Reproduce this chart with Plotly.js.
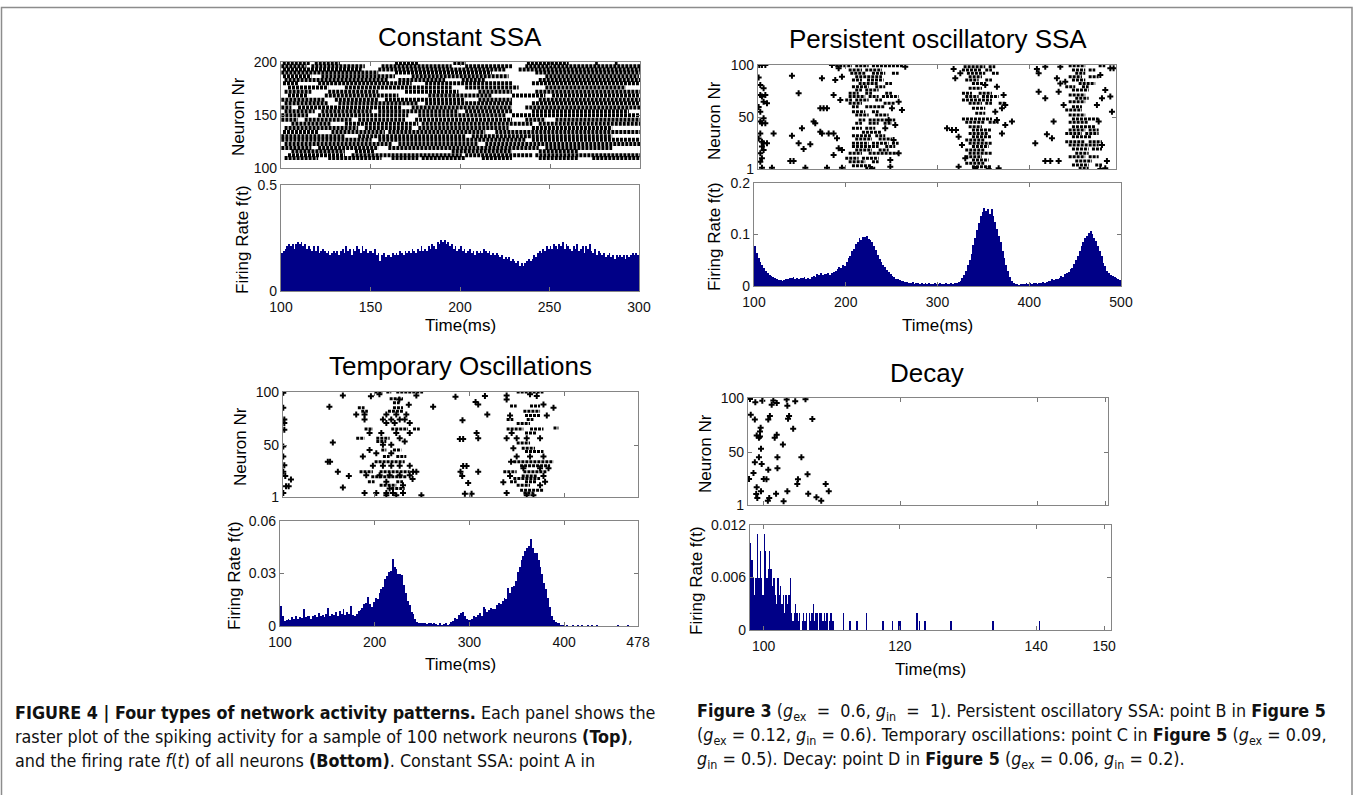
<!DOCTYPE html>
<html><head><meta charset="utf-8">
<script src="https://cdn.plot.ly/plotly-3.0.1.min.js"></script>
<style>html,body{margin:0;padding:0;background:#fff}#chart{width:1355px;height:795px}</style>
</head><body><div id="chart"></div>
<script>
// ---------------- DATA ----------------
const panelTitles = ["Constant SSA", "Persistent oscillatory SSA", "Temporary Oscillations", "Decay"];
const rasterLabel = "Neuron Nr";
const rateLabel = "Firing Rate f(t)";
const timeLabel = "Time(ms)";

// Panel 1: Constant SSA — raster runs [neuron, tStart, tEnd]
const p1Runs = [
 [199,101,116],[199,118.8,132.8],[199,163.5,176.5],[199,196,203],[199,237,260.3],[199,275,276.5],[199,286,287.5],
 [196,100.2,114.2],[196,116.9,146.7],[196,156,195.1],[196,202.6,228.7],[196,236.1,300],
 [193,101.1,144.9],[193,154.2,225],[193,232.4,300],
 [190,100.2,154.2],[190,163.5,217.5],[190,241.7,300],
 [186.5,101.1,116.9],[186.5,122.5,163.5],[186.5,172.8,226.8],[186.5,247.3,299.4],
 [183,102,159.8],[183,165.4,191.4],[183,200.7,213.8],[183,243.6,300],
 [180,101.1,109.5],[180,120.7,172.8],[180,180.3,228.7],[180,239.8,299.4],
 [176,103.9,126.3],[176,135.6,195.1],[176,202.6,232.4],[176,247.3,292],
 [172,102,116.9],[172,126.3,154.2],[172,169.1,198.9],[172,210,228.7],[172,241.7,300],
 [168.5,103.9,115.1],[168.5,124.4,165.4],[168.5,182.1,217.5],[168.5,228.7,247.3],[168.5,251,299.4],
 [164.5,100.2,124.4],[164.5,130,154.2],[164.5,157.9,202.6],[164.5,210,228.7],[164.5,243.6,300],
 [161,102,126.3],[161,132,176.5],[161,180.3,228.7],[161,239.8,300],
 [157,100.2,105.8],[157,109.5,167.2],[157,172.8,228.7],[157,236.1,300],
 [153.5,102,118.8],[153.5,122.5,150.5],[153.5,154.2,198.9],[153.5,202.6,228.7],[153.5,239.8,293.8],
 [149.7,100.2,115.1],[149.7,120.7,170.9],[149.7,176.5,225],[149.7,228.7,300],
 [145.6,100.2,109.5],[145.6,113.2,139.3],[145.6,143,169.1],[145.6,174.7,228.7],[145.6,236.1,247.3],[145.6,252.9,300],
 [141.8,105.8,128.1],[141.8,135.6,176.5],[141.8,178.4,240],[141.8,243.6,300],
 [137.7,102,143],[137.7,146.7,172.8],[137.7,176.5,226.8],[137.7,239.8,284.5],
 [134,101.1,120.7],[134,128.1,157.9],[134,159.8,213.8],[134,219.4,300],
 [130,100.2,135.6],[130,143,202.6],[130,206.3,284.5],
 [126.7,100.2,150.5],[126.7,154.2,236.1],[126.7,239.8,300],
 [122.6,102,161.6],[122.6,165.4,210],[122.6,213.8,300],
 [118.9,100.2,116.9],[118.9,120.7,154.2],[118.9,159.8,243.6],[118.9,247.3,284.5],
 [115.7,105.8,135.6],[115.7,141.2,152.3],[115.7,195.1,228.7],[115.7,243.6,265.9],
 [112,103.9,135.6],[112,139.3,200.7],[112,202.6,240],[112,241.7,300],
 [109.4,102,120.7],[109.4,126.3,156],[109.4,161.6,176.5],[109.4,178.4,202.6],[109.4,211.9,228.7],[109.4,243.6,265.9],[109.4,273.4,300]
];
// Panel 1 firing rate, 1 ms bins from 100 ms
const p1Rate = [
 .18,.19,.20,.21,.22,.21,.22,.20,.22,.23, .22,.23,.21,.22,.20,.21,.20,.19,.21,.19,
 .21,.18,.19,.20,.19,.18,.19,.17,.18,.19, .18,.19,.17,.19,.20,.18,.21,.19,.20,.17,
 .20,.19,.21,.20,.18,.21,.19,.20,.18,.19, .19,.18,.20,.17,.18,.14,.17,.18,.16,.17,
 .17,.16,.18,.17,.18,.17,.19,.18,.17,.19, .18,.19,.18,.20,.19,.18,.20,.19,.21,.19,
 .20,.19,.21,.20,.22,.21,.20,.23,.22,.24, .23,.24,.22,.23,.21,.22,.20,.21,.19,.20,
 .21,.19,.20,.18,.19,.20,.18,.19,.17,.19, .18,.19,.18,.20,.19,.18,.19,.17,.18,.17,
 .18,.17,.16,.17,.15,.16,.15,.16,.14,.15, .14,.13,.14,.12,.13,.12,.13,.14,.15,.14,
 .15,.17,.16,.18,.19,.18,.20,.19,.21,.20, .21,.20,.22,.21,.20,.22,.21,.23,.20,.22,
 .21,.20,.19,.21,.20,.22,.19,.20,.21,.18, .21,.20,.22,.19,.18,.20,.17,.19,.18,.17,
 .18,.16,.17,.18,.16,.17,.15,.17,.16,.17, .16,.17,.15,.17,.16,.17,.18,.17,.18,.17
];

// Panel 2: Persistent oscillatory SSA
const p2Runs = [
 [99.4,188.6,206.8],[99.4,210.4,225],[99.4,228.6,263.1],[95.2,203.2,217.7],[95.2,221.3,239.5],
 [92.1,205,221.3],[92.1,228.6,243.1],[92.1,250.4,257.7],[88.9,210.4,239.5],[85.7,206.8,217.7],[85.7,223.2,241.3],
 [82.5,214.1,235.9],[82.5,243.1,250.4],[79.4,206.8,225],[79.4,232.2,243.1],[76.2,210.4,217.7],[76.2,221.3,235.9],
 [73,203.2,214.1],[73,221.3,228.6],[73,243.1,250.4],[69.9,203.2,221.3],[69.9,225,235.9],[69.9,239.5,257.7],
 [66.7,199.5,206.8],[66.7,210.4,225],[66.7,232.2,239.5],[63.5,203.2,217.7],[63.5,241.3,254],
 [60.3,206.8,214.1],[60.3,221.3,243.1],[55.6,206.8,221.3],[55.6,228.6,235.9],[52.4,210.4,225],[52.4,232.2,246.8],
 [47.6,214.1,221.3],[47.6,225,254],[44.5,210.4,217.7],[44.5,225,235.9],[44.5,241.3,250.4],
 [39.7,206.8,217.7],[39.7,221.3,232.2],[35.9,217.7,239.5],[32.7,206.8,228.6],[32.7,232.2,243.1],
 [29.6,210.4,228.6],[29.6,235.9,250.4],[25.4,206.8,225],[25.4,228.6,246.8],[25.4,250.4,257.7],
 [22.3,206.8,235.9],[22.3,243.1,254],[19.1,210.4,228.6],[19.1,235.9,246.8],[15.9,203.2,217.7],[15.9,225,257.7],
 [11.2,199.5,214.1],[11.2,217.7,235.9],[8,203.2,221.3],[8,228.6,235.9],[4.2,206.8,228.6],[1.6,221.3,232.2],
 [98.4,328.5,352.1],[98.4,355.8,363],[95.2,326.7,348.5],[95.2,352.1,359.4],[92.1,332.1,352.1],[92.1,359.4,366.7],
 [88.9,334,348.5],[85.7,330.3,344.9],[85.7,352.1,359.4],[82.5,337.6,352.1],[77.8,334,348.5],
 [73,326.7,337.6],[73,344.9,359.4],[69.9,330.3,344.9],[69.9,348.5,366.7],[66.7,326.7,359.4],
 [63.5,334,348.5],[63.5,352.1,359.4],[63.5,366.7,373.9],[58.8,337.6,352.1],[54,341.2,352.1],
 [48.6,326.7,359.4],[45.4,330.3,352.1],[45.4,355.8,366.7],[41.3,334,348.5],[38.1,337.6,359.4],
 [34.9,334,355.8],[31.8,337.6,359.4],[28.6,330.3,352.1],[25.4,334,359.4],[22.3,337.6,355.8],
 [19.1,330.3,352.1],[15.9,334,359.4],[12.7,330.3,348.5],[9.6,337.6,355.8],[6.4,330.3,352.1],[3.2,337.6,359.4],
 [99.4,443,461.1],[99.4,475.7,482.9],[95.2,446.6,461.1],[95.2,464.8,472],[92.1,450.2,461.1],
 [88.9,443,457.5],[88.9,464.8,475.7],[85.7,446.6,461.1],[82.5,453.9,472],[79.4,439.3,450.2],[79.4,457.5,464.8],
 [76.2,446.6,464.8],[71.4,443,461.1],[68.3,450.2,464.8],[65.1,443,461.1],[60.3,446.6,457.5],[57.2,439.3,457.5],
 [52.4,443,461.1],[48.6,446.6,475.7],[45.4,443,464.8],[41.3,446.6,472],[38.1,443,461.1],[38.1,464.8,475.7],
 [34.9,439.3,457.5],[34.9,461.1,475.7],[31.8,446.6,468.4],[27,439.3,461.1],[27,464.8,479.3],[23.8,443,475.7],
 [20,446.6,464.8],[20,468.4,479.3],[15.9,450.2,464.8],[12.7,443,461.1],[12.7,464.8,475.7],[8.6,450.2,468.4],
 [4.8,446.6,464.8],[4.8,472,479.3],[1.6,453.9,464.8]
];
const p2Dots = [
 [105.8,100],[108.7,100],[112.4,100],[106.9,81],[110.5,77.8],[106.9,71.4],[108.7,69.9],[112.4,71.4],[110.5,65.1],[114.2,63.5],
 [106.9,55.6],[110.5,49.2],[106.9,46.1],[108.7,44.5],[112.4,44.5],[106.9,34.9],[108.7,27],[110.5,25.4],[114.2,25.4],
 [108.7,22.3],[110.5,19.1],[106.9,15.9],[108.7,11.2],[106.9,8],[108.7,2.3],[105.1,88],[105.1,30],[105.1,60],
 [141.4,89.8],[148.7,73],[174.1,87.3],[186.8,71.4],[166.8,44.5],[152.3,39.7],[148.7,25.4],[141.4,32.7],[154.1,20],
 [161.4,24.5],[143.2,8.6],[139.6,8.6],[121.4,34.9],[119.6,2.3],[156,2.3],[179.6,2.3],[195.9,2.3],
 [185,100],[192.3,96.8],[195.9,88.9],[188.6,85.7],[194.1,66.7],[172.3,58.8],[175.9,58.8],[179.6,58.8],[165,46.1],
 [172.3,36.5],[174.1,34.9],[181.4,34.9],[186.8,34.9],[190.5,30.2],[192.3,20.7],[186.8,14.3],[195.9,19.1],
 [250.4,58.8],[257.7,65.1],[261.3,57.2],[246.8,47.6],[254,42.9],[243.1,39.7],[252.2,28.6],[257.7,15.9],[248.6,9.6],
 [248.6,3.2],[228.6,1],[264.9,98.4],
 [317.6,96.2],[324.9,92.1],[319.4,87.3],[352.1,81],[364.8,79.4],[372.1,71.4],[373.9,61.9],[370.3,58.8],[363,55.6],
 [364.8,47.6],[381.2,46.1],[373.9,42.9],[310.4,39.7],[315.8,38.1],[320.2,38.1],[370.3,34.9],[323.1,31.8],[326.7,23.8],
 [330.3,11.2],[323.1,3.2],[366.7,1.6],[341.2,1],[355.8,1],
 [408.4,96.2],[410.3,92.1],[417.5,98.4],[430.2,87.3],[433.9,98.4],[433.9,82.5],[439.3,84.1],[477.5,90.5],[482.9,76.2],
 [488.4,96.8],[492,96.8],[410.3,74.6],[417.5,68.3],[432.1,74.6],[437.5,61.9],[479.3,68.3],[490.2,55.6],[488.4,69.9],
 [426.6,46.1],[419.3,34],[424.8,30.2],[406.6,25.4],[473.8,61.9],[475.7,46.1],[417.5,8.6],[423,8.6],[432.1,8.6],
 [484.7,8.6],[479.3,23.8],[482.9,1.6],[477.5,1]
];
// Panel 2 firing rate, 2 ms bins from 100 ms
const p2Rate = [
 .077,.065,.055,.047,.040, .035,.029,.026,.022,.020, .017,.016,.014,.012,.011, .010,.012,.014,.013,.016,
 .015,.017,.014,.016,.013, .016,.015,.017,.014,.016, .013,.018,.019,.017,.024, .022,.025,.021,.024,.023,
 .026,.022,.025,.028,.030, .033,.036,.034,.040,.038, .047,.055,.058,.068,.072, .082,.085,.093,.090,.096,
 .095,.097,.092,.089,.085, .077,.070,.060,.052,.046, .040,.036,.031,.028,.024, .020,.018,.014,.013,.011,
 .010,.009,.008,.007,.006, .005,.007,.004,.006,.005, .004,.006,.003,.005,.004, .005,.003,.004,.006,.003,
 .004,.005,.003,.004,.005, .004,.003,.005,.004,.006, .005,.007,.010,.015,.022, .030,.040,.050,.062,.080,
 .093,.108,.122,.135,.143, .151,.145,.149,.140,.150, .135,.125,.110,.098,.085, .068,.055,.040,.029,.018,
 .010,.006,.004,.003,.002, .003,.004,.003,.005,.004, .005,.004,.006,.005,.004, .006,.005,.007,.006,.008,
 .010,.009,.013,.011,.013, .014,.016,.019,.018,.023, .026,.028,.033,.035,.042, .050,.058,.068,.078,.086,
 .094,.098,.103,.106,.101, .093,.088,.078,.068,.058, .045,.038,.030,.025,.022, .020,.018,.016,.014,.012
];

// Panel 3: Temporary Oscillations
const p3Runs = [
 [100,199.9,208.7],[100,212.3,217.5],[100,222.8,251.1],[93.7,215.8,229.9],[89.8,219.3,226.4],
 [85.1,182.2,189.3],[85.1,219.3,229.9],[81.9,185.8,192.8],[81.9,214,229.9],
 [65.1,189.3,198.1],[65.1,217.5,235.2],[65.1,240.5,247.6],[56.5,180.5,189.3],[56.5,201.7,215.8],[53.4,201.7,212.3],
 [45.4,207,212.3],[45.4,219.3,228.1],[39.1,208.7,215.8],[39.1,222.8,233.4],[34.3,199.9,231.7],
 [24.8,184,198.1],[24.8,205.2,237],[20,196.4,233.4],[15.3,192.8,199.9],[15.3,222.8,229.9],[12.1,205.2,222.8],[8.9,217.5,231.7],
 [100,349.9,378.2],[86.7,342.9,349.9],[86.7,364,374.6],[81.9,357,374.6],[77.8,358.7,374.6],[74,339.3,346.4],[74,360.5,367.6],
 [70.2,349.9,364],[66,388.8,394],[65.1,339.3,357],[65.1,364,378.2],[61.3,358.7,371.1],[51.8,349.9,364],[47,355.2,369.3],
 [43.8,358.7,378.2],[34.3,346.4,388.8],[30.5,353.5,385.2],[24.8,335.8,349.9],[24.8,357,381.7],[20.7,355.2,371.1],
 [18.5,346.4,374.6],[15.3,342.9,349.9],[15.3,358.7,371.1],[12.1,349.9,364],[7.3,353.5,378.2],[4.8,357,367.6]
];
const p3Dots = [
 [180.5,78.7],[189.3,78.7],[212.3,78.7],[222.8,78.7],[233.4,78.7],[189.3,74],[208.7,74],[217.5,74],[226.4,74],[231.7,74],
 [212.3,70.8],[221.1,70.8],[237,70.8],[194.6,61.3],[207,61.3],[222.8,61.3],[237,61.3],[226.4,56.5],[231.7,53.4],
 [208.7,50.2],[217.5,50.2],[194.6,45.4],[201.7,42.2],[217.5,42.2],[187.5,39.1],[198.1,30.5],[208.7,30.5],[217.5,30.5],
 [226.4,30.5],[237,30.5],[240.5,24.8],[244,24.8],[191.1,21.6],[205.2,21.6],[215.8,21.6],[226.4,21.6],[237,21.6],
 [212.3,15.3],[240,18],[229.9,12.1],[215.8,8.9],[189.3,4.8],[201.7,4.8],[212.3,4.8],[219.3,4.8],[229.9,4.8],
 [212.3,2.6],[222.8,2.6],[249.3,2.6],[196,96],[205,97.8],[226,93],[236,88],[244,96.8],
 [152.2,86],[166.4,96.8],[155.8,52.4],[150.5,34.3],[152.9,34.3],[161.1,24.8],[172.7,20.7],[166.4,9.9],
 [103.5,99.4],[103.5,85.1],[104.6,74],[104.6,70.8],[104.6,64.5],[103.5,48.6],[103.5,39.1],[104.6,31],[103.5,24.8],
 [105.6,20.7],[111.6,17.5],[106.4,11.2],[109.2,11.2],[103.5,4.8],
 [261.7,86],[285.3,95.6],[306.5,90.5],[309.3,88.3],[316.4,96.2],[318.9,78.7],[292.7,73.3],[289.9,55.6],[293.4,55.6],
 [307.6,61.3],[309.3,56.5],[293.4,30.2],[297,30.2],[290.6,24.8],[292.4,20.7],[309.3,24.8],[298.7,14.3],[295.2,4.1],[302.3,4.1],
 [339.3,96.8],[339.3,93],[364,97.8],[371.1,96.2],[378.2,88.3],[388.8,85.1],[342.9,77.8],[381.7,77.8],[344.6,61.3],
 [339.3,56.5],[349.9,56.5],[360.5,56.5],[374.6,56.5],[346.4,47],[349.9,39.1],[364,39.1],[378.2,39.1],[357,28],
 [374.6,28],[383.5,28],[342.9,20.7],[378.2,20.7],[379.9,15.3],[374.6,12.1],[339.3,4.8],[360.5,2.6],[367.6,2.6],[335.8,15],[344,34.3]
];
// Panel 3 firing rate, 2 ms bins from 100 ms
const p3Rate = [
 .0115,.006,.003,.0035,.004, .0035,.005,.004,.006,.004, .005,.0045,.0095,.005,.006, .0055,.004,.006,.0065,.005,
 .0075,.006,.0065,.005,.007, .0105,.006,.007,.0065,.008, .006,.0085,.007,.0095,.0065, .008,.007,.0115,.0065,.006,
 .007,.0085,.009,.0105,.0125, .013,.0165,.0125,.011,.014, .016,.0155,.019,.021,.0225, .027,.0285,.031,.0315,.0385,
 .034,.0325,.030,.0295,.029, .0235,.019,.0145,.012,.008, .007,.004,.0025,.002,.0015, .0018,.0015,.0012,.002,.0015,
 .0012,.0018,.001,.0008,.0015, .0006,.001,.0015,.0008,.0012, .0025,.003,.0045,.004,.0065, .0075,.008,.0055,.004,.0035,
 .0035,.004,.0055,.005,.0065, .0075,.006,.011,.0095,.008, .009,.0105,.0095,.010,.012, .013,.0125,.0145,.016,.0155,
 .0215,.019,.0225,.023,.0255, .031,.0335,.0375,.040,.043, .0445,.046,.050,.0445,.042, .0415,.038,.034,.030,.0245,
 .021,.016,.011,.006,.0035, .0025,.0015,.0015,.0008,.0006, 0,.0006,0,0,.0006, 0,0,.0006,0,.0006,
 0,0,.0006,0,.0006, 0,0,.0006,0,0, 0,0,0,0,0, 0,0,0,.0006,0, 0,0,0,.0006,0, 0,0,0,0
];

// Panel 4: Decay — individual spikes [time, neuron]
const p4Dots = [
 [97.99,99],[98.77,96],[99.79,97.5],[101.4,97.8],[101.9,95.4],[101.16,93.8],[103.35,98.5],[103.45,92.9],[104.6,96.9],[106.1,98.8],
 [98.1,84.5],[98.7,80.2],[100.66,80.2],[100.9,83.3],[103.55,80.8],[103.7,83.3],[107.1,80.5],
 [99.55,72.5],[99.45,69.1],[98.97,65.3],[99.3,63.2],[99.45,64.4],[101.9,66],[101.6,63.2],[104.3,71.5],[102.8,57],
 [99.6,53],[99.3,45.2],[102.0,45.2],[105.5,45.2],[98.7,40.6],[99.7,39],[102.0,35],[100.66,33.5],[98.5,30.7],[106.4,29.5],
 [100.0,25.1],[100.4,24.8],[97.85,25.1],[105.0,24.8],[104.9,20.5],[109.05,20.5],[98.97,17.4],[106.5,11.5],[109.5,13.7],
 [99.6,13.7],[98.9,11.2],[99.06,7.5],[101.8,11.5],[103.45,13.7],[107.7,8.1],[108.4,5],[100.6,5],[100.8,7.5],[102.9,4.4]
];
// Panel 4 firing rate: non-empty 0.2 ms bins (centre time, rate)
const p4Time = [
 98.1,98.3,98.5,98.7,98.9,99.1,99.3,99.5,99.7,99.9,
 100.1,100.3,100.5,100.7,100.9,101.1,101.3,101.5,101.7,101.9,
 102.1,102.3,102.5,102.7,102.9,103.1,103.3,103.5,103.7,103.9,
 104.1,104.3,104.5,104.7,104.9,105.1,105.3,105.7,105.9,
 106.1,106.3,106.7,106.9,107.1,107.3,107.5,107.7,107.9,
 108.3,108.5,108.7,108.9,109.1,109.3,109.7,109.9,
 110.1,110.3,111.7,112.7,113.7,115.1,117.5,118.9,119.9,120.1,122.5,122.9,123.7,127.5,133.7,140.5
];
const p4Rate = [
 .010,.008,.006,.004,.006,.011,.006,.009,.006,.004,
 .011,.009,.006,.007,.009,.007,.005,.006,.004,.003,
 .006,.004,.005,.003,.004,.002,.004,.003,.004,.006,
 .002,.001,.002,.003,.002,.001,.002,.001,.002,
 .001,.002,.002,.001,.002,.003,.001,.002,.002,
 .002,.002,.001,.002,.001,.002,.001,.002,
 .001,.001,.002,.001,.001,.002,.001,.001,.001,.001,.002,.001,.001,.001,.001,.001
];

// Tick values
const p1RasterTicks = [100,150,200];
const p1TimeTicks = [100,150,200,250,300];
const p1RateTicks = [0,0.5];
const p2TimeTicks = [100,200,300,400,500];
const p2RateTicks = [0,0.1,0.2];
const p3TimeTicks = [100,200,300,400,478];
const p3RateTicks = [0,0.03,0.06];
const p4TimeTicks = [100,120,140,150];
const p4RateTicks = [0,0.006,0.012];
const neuronTicks = [1,50,100];

// Caption
const captionLeft = [
 "<b>FIGURE 4 | Four types of network activity patterns.</b> Each panel shows the",
 "raster plot of the spiking activity for a sample of 100 network neurons <b>(Top)</b>,",
 "and the firing rate <i>f</i>(<i>t</i>) of all neurons <b>(Bottom)</b>. Constant SSA: point A in"
];
const captionRight = [
 "<b>Figure 3</b> (<i>g</i><sub>ex</sub>  =  0.6, <i>g</i><sub>in</sub>  =  1). Persistent oscillatory SSA: point B in <b>Figure 5</b>",
 "(<i>g</i><sub>ex</sub> = 0.12, <i>g</i><sub>in</sub> = 0.6). Temporary oscillations: point C in <b>Figure 5</b> (<i>g</i><sub>ex</sub> = 0.09,",
 "<i>g</i><sub>in</sub> = 0.5). Decay: point D in <b>Figure 5</b> (<i>g</i><sub>ex</sub> = 0.06, <i>g</i><sub>in</sub> = 0.2)."
];

// ---------------- DRAWING ----------------
const W = 1355, H = 795;
const fx = p => p / W;
const fy = p => 1 - p / H;
const BAR = 'rgb(0,0,135)';
const FONT = 'Liberation Sans, Arial, Helvetica, sans-serif';

function runTrace(runs, xa, ya, width, dash) {
  const x = [], y = [];
  runs.forEach(r => { x.push(r[1], r[2], null); y.push(r[0], r[0], null); });
  return {type:'scatter', mode:'lines', x, y, xaxis:xa, yaxis:ya, hoverinfo:'skip',
          line:{color:'#000', width:width, dash:dash}};
}
function dotTrace(dots, xa, ya) {
  return {type:'scatter', mode:'markers', x:dots.map(d=>d[0]), y:dots.map(d=>d[1]), xaxis:xa, yaxis:ya,
          hoverinfo:'skip', marker:{symbol:'cross', size:5, color:'#000', line:{width:0}}};
}
function binTrace(rate, start, w, xa, ya) {
  return {type:'bar', x:rate.map((v,i)=>start + w*(i+0.5)), y:rate, width:w, xaxis:xa, yaxis:ya,
          hoverinfo:'skip', marker:{color:BAR, line:{width:0}}};
}

const traces = [
  runTrace(p1Runs, 'x', 'y', 4, '3px,1px'),
  binTrace(p1Rate, 100, 1, 'x2', 'y2'),
  runTrace(p2Runs, 'x3', 'y3', 3, '3px,1px'),
  dotTrace(p2Dots, 'x3', 'y3'),
  binTrace(p2Rate, 100, 2, 'x4', 'y4'),
  runTrace(p3Runs, 'x5', 'y5', 3, '3px,1px'),
  dotTrace(p3Dots, 'x5', 'y5'),
  binTrace(p3Rate, 100, 2, 'x6', 'y6'),
  dotTrace(p4Dots, 'x7', 'y7'),
  {type:'bar', x:p4Time, y:p4Rate, width:0.2, xaxis:'x8', yaxis:'y8', hoverinfo:'skip', marker:{color:BAR, line:{width:0}}}
];

function ax(domain, range, tickvals, labels, anchor, ticktext, isX) {
  const a = {domain, range, anchor, tickmode:'array', tickvals, showticklabels:labels,
    ticks:'inside', ticklen:4, tickwidth:1, tickcolor:'#777', showline:true, linecolor:'#858585', linewidth:1.2,
    mirror:'ticks', showgrid:false, zeroline:false, fixedrange:true,
    tickfont:{family:FONT, size:14, color:'#111'}};
  if (isX) a.ticklabelstandoff = 3;
  if (ticktext) a.ticktext = ticktext;
  return a;
}

const layout = {
  width:W, height:H, margin:{l:0,r:0,t:0,b:0}, paper_bgcolor:'#fff', plot_bgcolor:'#fff',
  showlegend:false, bargap:0,
  xaxis:  ax([fx(281),fx(640)], [100,300], p1TimeTicks, false, 'y', null, true),
  yaxis:  ax([fy(168),fy(62)], [100,200], p1RasterTicks, true, 'x'),
  xaxis2: ax([fx(281),fx(639)], [100,300], p1TimeTicks, true, 'y2', null, true),
  yaxis2: ax([fy(291),fy(185)], [0,0.5], p1RateTicks, true, 'x2', ['0','0.5']),
  xaxis3: ax([fx(758),fx(1116)], [104.4,494.6], p2TimeTicks, false, 'y3', null, true),
  yaxis3: ax([fy(169),fy(65)], [1,100], neuronTicks, true, 'x3'),
  xaxis4: ax([fx(754),fx(1121)], [100,500], p2TimeTicks, true, 'y4', null, true),
  yaxis4: ax([fy(286),fy(183)], [0,0.2], p2RateTicks, true, 'x4', ['0','0.1','0.2']),
  xaxis5: ax([fx(283),fx(638)], [103.2,478], p3TimeTicks, false, 'y5', null, true),
  yaxis5: ax([fy(497),fy(392)], [1,100], neuronTicks, true, 'x5'),
  xaxis6: ax([fx(280),fx(638)], [100,478], p3TimeTicks, true, 'y6', null, true),
  yaxis6: ax([fy(626),fy(521)], [0,0.06], p3RateTicks, true, 'x6', ['0','0.03','0.06']),
  xaxis7: ax([fx(748),fx(1108)], [97.7,150.3], p4TimeTicks, false, 'y7', null, true),
  yaxis7: ax([fy(505),fy(398)], [1,100], neuronTicks, true, 'x7'),
  xaxis8: ax([fx(750),fx(1111)], [98,151], p4TimeTicks, true, 'y8', null, true),
  yaxis8: ax([fy(630),fy(525)], [0,0.012], p4RateTicks, true, 'x8', ['0','0.006','0.012']),
  shapes:[
    {type:'rect', xref:'paper', yref:'paper', x0:fx(1.5), x1:fx(1352), y0:fy(800), y1:fy(7.5),
     line:{color:'#8c8c8c', width:1.5}, fillcolor:'rgba(0,0,0,0)', layer:'below'}
  ],
  annotations:[]
};

function note(text, px, py, size, opts) {
  layout.annotations.push(Object.assign({text, xref:'paper', yref:'paper', x:fx(px), y:fy(py),
    showarrow:false, xanchor:'center', yanchor:'middle', font:{family:FONT, size, color:'#000'}}, opts||{}));
}
note(panelTitles[0], 460, 37, 26);
note(panelTitles[1], 938, 39, 26);
note(panelTitles[2], 460, 366, 26);
note(panelTitles[3], 927, 373, 26);
note(rasterLabel, 239, 117, 17, {textangle:-90});
note(rateLabel, 243, 240, 17, {textangle:-90});
note(timeLabel, 460, 325, 17);
note(rasterLabel, 715, 121, 17, {textangle:-90});
note(rateLabel, 715, 237, 17, {textangle:-90});
note(timeLabel, 937, 325, 17);
note(rasterLabel, 240, 446, 17, {textangle:-90});
note(rateLabel, 234, 576, 17, {textangle:-90});
note(timeLabel, 460, 664, 17);
note(rasterLabel, 705, 453, 17, {textangle:-90});
note(rateLabel, 696, 581, 17, {textangle:-90});
note(timeLabel, 930, 669, 17);
const CAP = 'DejaVu Sans Condensed, Liberation Sans Narrow, Arial Narrow, sans-serif';
captionLeft.forEach((t,i) => note(t, 13, 712 + 24*i, 17.8, {xanchor:'left', align:'left', font:{family:CAP, size:17.8, color:'#111'}}));
captionRight.forEach((t,i) => note(t, 695, 712 + 24*i, 17.8, {xanchor:'left', align:'left', font:{family:CAP, size:17.8, color:'#111'}}));

Plotly.newPlot('chart', traces, layout, {staticPlot:true, displayModeBar:false});
</script></body></html>
